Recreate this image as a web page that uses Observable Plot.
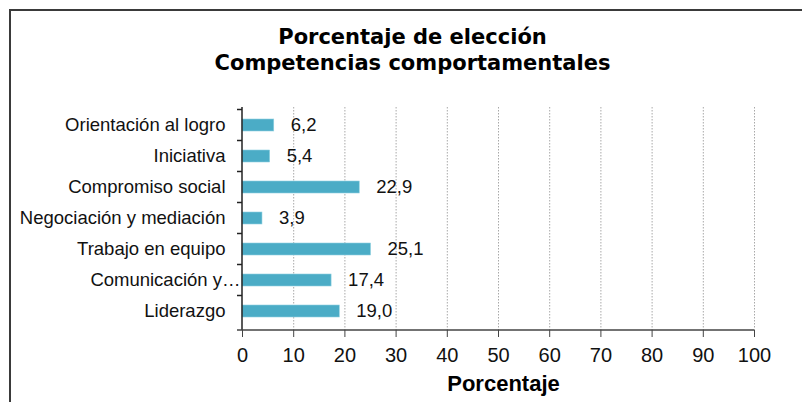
<!DOCTYPE html>
<html>
<head>
<meta charset="utf-8">
<script src="https://cdn.jsdelivr.net/npm/d3@7"></script>
<script src="https://cdn.jsdelivr.net/npm/@observablehq/plot@0.6"></script>
<style>
  html, body { margin: 0; padding: 0; background: #fff; }
  #wrap { position: relative; width: 802px; height: 402px; overflow: hidden; }
  #border { position: absolute; left: 9px; top: 9px; width: 900px; height: 500px;
            border-top: 2px solid #3a3a3a; border-left: 2px solid #3a3a3a; box-sizing: border-box; }
  #chart { position: absolute; left: 0; top: 0; }
</style>
</head>
<body>
<div id="wrap"><div id="border"></div><div id="chart"></div></div>
<script>
const categories = [
  "Orientación al logro",
  "Iniciativa",
  "Compromiso social",
  "Negociación y mediación",
  "Trabajo en equipo",
  "Comunicación y…",
  "Liderazgo"
];
const values = [6.2, 5.4, 22.9, 3.9, 25.1, 17.4, 19.0];
const xTicks = [0, 10, 20, 30, 40, 50, 60, 70, 80, 90, 100];
const titleLines = ["Porcentaje de elección", "Competencias comportamentales"];
const xLabel = "Porcentaje";
const truncatedLabel = "Comunicación y…";

const data = categories.map((c, i) => ({category: c, value: values[i]}));
const fmt = v => v.toFixed(1).replace(".", ",");

// custom axis-structure mark: y-axis boundary ticks and x baseline, via the scales
function axisFrame() {
  return (index, scales, values, dims) => {
    const g = d3.create("svg:g");
    const y = scales.y, x = scales.x;
    const step = y.step();
    const x0 = x(0);
    const yTop = dims.marginTop;
    const yBot = dims.height - dims.marginBottom;
    g.append("line").attr("x1", x0).attr("x2", x0).attr("y1", yTop).attr("y2", yBot)
      .attr("stroke", "#222").attr("stroke-width", 1.5);
    g.append("line").attr("x1", x0 - 5).attr("x2", x(100)).attr("y1", yBot).attr("y2", yBot)
      .attr("stroke", "#444").attr("stroke-width", 1.5);
    categories.forEach((c) => {
      const yy = y(c) - (step - y.bandwidth()) / 2;
      g.append("line").attr("x1", x0 - 5).attr("x2", x0).attr("y1", yy).attr("y2", yy)
        .attr("stroke", "#222").attr("stroke-width", 1.5);
    });
    return g.node();
  };
}

const chart = Plot.plot({
  width: 802,
  height: 402,
  marginLeft: 242,
  marginRight: 48,
  marginTop: 107,
  marginBottom: 72,
  style: {fontFamily: "'Liberation Sans', Arial, sans-serif", background: "transparent"},
  x: {domain: [0, 100], ticks: xTicks},
  y: {domain: categories, paddingInner: 0.6, paddingOuter: 0.3, align: 0.5},
  marks: [
    Plot.gridX(xTicks.slice(1), {stroke: "#a8a8a8", strokeOpacity: 1, strokeDasharray: "1.5,1.5", strokeWidth: 1}),
    Plot.barX(data, {x: "value", y: "category", fill: "#4BACC6", stroke: "#8fd0e0", strokeWidth: 0.6}),
    Plot.text(data, {x: "value", y: "category", text: d => fmt(d.value), textAnchor: "start", dx: 16.5, fontSize: 18.5, fill: "#111"}),
    Plot.axisY({ticks: categories.filter(c => c !== truncatedLabel), tickSize: 0, tickPadding: 17, fontSize: 18.5, fill: "#111", label: null}),
    Plot.axisY({ticks: [truncatedLabel], tickSize: 0, tickPadding: 2, fontSize: 18.5, fill: "#111", label: null}),
    Plot.axisX({ticks: xTicks, tickSize: 7, tickPadding: 10, fontSize: 20, fill: "#111", stroke: "#444", label: null}),
    axisFrame(),
    Plot.text([xLabel], {frameAnchor: "bottom", dy: 53, dx: 5, fontSize: 22, fontWeight: "bold", fill: "#000", lineAnchor: "middle"}),
    Plot.text([titleLines[0]], {frameAnchor: "top", dy: -70, dx: -86, fontSize: 21, fontWeight: "bold", fill: "#000", lineAnchor: "middle", fontFamily: "'DejaVu Sans', Verdana, sans-serif"}),
    Plot.text([titleLines[1]], {frameAnchor: "top", dy: -44, dx: -86, fontSize: 21, fontWeight: "bold", fill: "#000", lineAnchor: "middle", fontFamily: "'DejaVu Sans', Verdana, sans-serif"})
  ]
});
document.getElementById("chart").appendChild(chart);
</script>
</body>
</html>
